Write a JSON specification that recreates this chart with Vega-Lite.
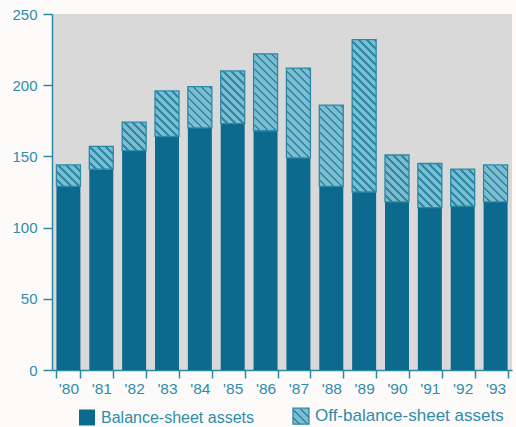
{
  "$schema": "https://vega.github.io/schema/vega-lite/v6.json",
  "width": 460,
  "height": 356,
  "autosize": {"type": "none"},
  "padding": {"left": 52, "top": 14, "right": 4, "bottom": 57},
  "background": "#fdfbf9",
  "config": {
    "view": {"fill": "#d9d9d9", "stroke": null},
    "font": "Liberation Sans"
  },
  "params": [
    {
      "name": "hatch",
      "value": [
        {"offset": 0, "color": "#7ebdd0"}, {"offset": 0.03091, "color": "#7ebdd0"}, {"offset": 0.03091, "color": "#2c89a6"}, {"offset": 0.04545, "color": "#2c89a6"},
        {"offset": 0.04545, "color": "#7ebdd0"}, {"offset": 0.07636, "color": "#7ebdd0"}, {"offset": 0.07636, "color": "#2c89a6"}, {"offset": 0.09091, "color": "#2c89a6"},
        {"offset": 0.09091, "color": "#7ebdd0"}, {"offset": 0.12182, "color": "#7ebdd0"}, {"offset": 0.12182, "color": "#2c89a6"}, {"offset": 0.13636, "color": "#2c89a6"},
        {"offset": 0.13636, "color": "#7ebdd0"}, {"offset": 0.16727, "color": "#7ebdd0"}, {"offset": 0.16727, "color": "#2c89a6"}, {"offset": 0.18182, "color": "#2c89a6"},
        {"offset": 0.18182, "color": "#7ebdd0"}, {"offset": 0.21273, "color": "#7ebdd0"}, {"offset": 0.21273, "color": "#2c89a6"}, {"offset": 0.22727, "color": "#2c89a6"},
        {"offset": 0.22727, "color": "#7ebdd0"}, {"offset": 0.25818, "color": "#7ebdd0"}, {"offset": 0.25818, "color": "#2c89a6"}, {"offset": 0.27273, "color": "#2c89a6"},
        {"offset": 0.27273, "color": "#7ebdd0"}, {"offset": 0.30364, "color": "#7ebdd0"}, {"offset": 0.30364, "color": "#2c89a6"}, {"offset": 0.31818, "color": "#2c89a6"},
        {"offset": 0.31818, "color": "#7ebdd0"}, {"offset": 0.34909, "color": "#7ebdd0"}, {"offset": 0.34909, "color": "#2c89a6"}, {"offset": 0.36364, "color": "#2c89a6"},
        {"offset": 0.36364, "color": "#7ebdd0"}, {"offset": 0.39455, "color": "#7ebdd0"}, {"offset": 0.39455, "color": "#2c89a6"}, {"offset": 0.40909, "color": "#2c89a6"},
        {"offset": 0.40909, "color": "#7ebdd0"}, {"offset": 0.44, "color": "#7ebdd0"}, {"offset": 0.44, "color": "#2c89a6"}, {"offset": 0.45455, "color": "#2c89a6"},
        {"offset": 0.45455, "color": "#7ebdd0"}, {"offset": 0.48545, "color": "#7ebdd0"}, {"offset": 0.48545, "color": "#2c89a6"}, {"offset": 0.5, "color": "#2c89a6"},
        {"offset": 0.5, "color": "#7ebdd0"}, {"offset": 0.53091, "color": "#7ebdd0"}, {"offset": 0.53091, "color": "#2c89a6"}, {"offset": 0.54545, "color": "#2c89a6"},
        {"offset": 0.54545, "color": "#7ebdd0"}, {"offset": 0.57636, "color": "#7ebdd0"}, {"offset": 0.57636, "color": "#2c89a6"}, {"offset": 0.59091, "color": "#2c89a6"},
        {"offset": 0.59091, "color": "#7ebdd0"}, {"offset": 0.62182, "color": "#7ebdd0"}, {"offset": 0.62182, "color": "#2c89a6"}, {"offset": 0.63636, "color": "#2c89a6"},
        {"offset": 0.63636, "color": "#7ebdd0"}, {"offset": 0.66727, "color": "#7ebdd0"}, {"offset": 0.66727, "color": "#2c89a6"}, {"offset": 0.68182, "color": "#2c89a6"},
        {"offset": 0.68182, "color": "#7ebdd0"}, {"offset": 0.71273, "color": "#7ebdd0"}, {"offset": 0.71273, "color": "#2c89a6"}, {"offset": 0.72727, "color": "#2c89a6"},
        {"offset": 0.72727, "color": "#7ebdd0"}, {"offset": 0.75818, "color": "#7ebdd0"}, {"offset": 0.75818, "color": "#2c89a6"}, {"offset": 0.77273, "color": "#2c89a6"},
        {"offset": 0.77273, "color": "#7ebdd0"}, {"offset": 0.80364, "color": "#7ebdd0"}, {"offset": 0.80364, "color": "#2c89a6"}, {"offset": 0.81818, "color": "#2c89a6"},
        {"offset": 0.81818, "color": "#7ebdd0"}, {"offset": 0.84909, "color": "#7ebdd0"}, {"offset": 0.84909, "color": "#2c89a6"}, {"offset": 0.86364, "color": "#2c89a6"},
        {"offset": 0.86364, "color": "#7ebdd0"}, {"offset": 0.89455, "color": "#7ebdd0"}, {"offset": 0.89455, "color": "#2c89a6"}, {"offset": 0.90909, "color": "#2c89a6"},
        {"offset": 0.90909, "color": "#7ebdd0"}, {"offset": 0.94, "color": "#7ebdd0"}, {"offset": 0.94, "color": "#2c89a6"}, {"offset": 0.95455, "color": "#2c89a6"},
        {"offset": 0.95455, "color": "#7ebdd0"}, {"offset": 0.98545, "color": "#7ebdd0"}, {"offset": 0.98545, "color": "#2c89a6"}, {"offset": 1, "color": "#2c89a6"}
      ]
    }
  ],
  "data": {
    "values": [
      {"year": "'80", "type": "Balance-sheet assets", "value": 129},
      {"year": "'80", "type": "Off-balance-sheet assets", "value": 15},
      {"year": "'81", "type": "Balance-sheet assets", "value": 141},
      {"year": "'81", "type": "Off-balance-sheet assets", "value": 16},
      {"year": "'82", "type": "Balance-sheet assets", "value": 154},
      {"year": "'82", "type": "Off-balance-sheet assets", "value": 20},
      {"year": "'83", "type": "Balance-sheet assets", "value": 164},
      {"year": "'83", "type": "Off-balance-sheet assets", "value": 32},
      {"year": "'84", "type": "Balance-sheet assets", "value": 170},
      {"year": "'84", "type": "Off-balance-sheet assets", "value": 29},
      {"year": "'85", "type": "Balance-sheet assets", "value": 173},
      {"year": "'85", "type": "Off-balance-sheet assets", "value": 37},
      {"year": "'86", "type": "Balance-sheet assets", "value": 168},
      {"year": "'86", "type": "Off-balance-sheet assets", "value": 54},
      {"year": "'87", "type": "Balance-sheet assets", "value": 149},
      {"year": "'87", "type": "Off-balance-sheet assets", "value": 63},
      {"year": "'88", "type": "Balance-sheet assets", "value": 129},
      {"year": "'88", "type": "Off-balance-sheet assets", "value": 57},
      {"year": "'89", "type": "Balance-sheet assets", "value": 125},
      {"year": "'89", "type": "Off-balance-sheet assets", "value": 107},
      {"year": "'90", "type": "Balance-sheet assets", "value": 118},
      {"year": "'90", "type": "Off-balance-sheet assets", "value": 33},
      {"year": "'91", "type": "Balance-sheet assets", "value": 114},
      {"year": "'91", "type": "Off-balance-sheet assets", "value": 31},
      {"year": "'92", "type": "Balance-sheet assets", "value": 115},
      {"year": "'92", "type": "Off-balance-sheet assets", "value": 26},
      {"year": "'93", "type": "Balance-sheet assets", "value": 118},
      {"year": "'93", "type": "Off-balance-sheet assets", "value": 26}
    ]
  },
  "transform": [
    {"stack": "value", "groupby": ["year"], "sort": [{"field": "type", "order": "ascending"}], "as": ["v0", "v1"]}
  ],
  "encoding": {
    "x": {
      "field": "year",
      "type": "nominal",
      "sort": null,
      "scale": {"paddingInner": 0.27, "paddingOuter": 0.135},
      "axis": {
        "title": null,
        "labelAngle": 0,
        "tickBand": "extent",
        "tickSize": 8,
        "tickWidth": 1.5,
        "tickColor": "#2c89a6",
        "domainColor": "#2c89a6",
        "domainWidth": 1.5,
        "labelFont": "Liberation Sans",
        "labelFontSize": 15.5,
        "labelColor": "#2f8cab",
        "labelPadding": 3
      }
    },
    "y": {
      "field": "v1",
      "type": "quantitative",
      "scale": {"domain": [0, 250], "nice": false},
      "axis": {
        "title": null,
        "values": [0, 50, 100, 150, 200, 250],
        "grid": false,
        "tickSize": 9,
        "tickWidth": 1.5,
        "tickColor": "#2c89a6",
        "domainColor": "#2c89a6",
        "domainWidth": 1.5,
        "labelFont": "Liberation Sans",
        "labelFontSize": 15,
        "labelColor": "#2f8cab",
        "labelPadding": 6
      }
    },
    "y2": {"field": "v0"}
  },
  "layer": [
    {
      "mark": {"type": "bar"},
      "encoding": {
        "fill": {
          "field": "type",
          "type": "nominal",
          "scale": {
            "domain": ["Balance-sheet assets", "Off-balance-sheet assets"],
            "range": ["#0b6a8e", "#7ebdd0"]
          },
          "legend": null
        },
        "opacity": {
          "field": "type",
          "type": "ordinal",
          "scale": {"range": [1, 1]},
          "legend": {
            "title": null,
            "orient": "none",
            "legendX": 27,
            "legendY": 394,
            "direction": "horizontal",
            "symbolType": "square",
            "symbolSize": 256,
            "symbolFillColor": {"expr": "datum.value === 'Off-balance-sheet assets' ? {gradient: 'linear', x1: 0, y1: 1, x2: 5.5, y2: -4.5, stops: hatch} : '#0b6a8e'"},
            "symbolStrokeColor": "#2c89a6",
            "symbolStrokeWidth": {"expr": "datum.value === 'Off-balance-sheet assets' ? 1.3 : 0"},
            "labelFont": "Liberation Sans",
            "labelFontSize": {"expr": "datum.value === 'Off-balance-sheet assets' ? 17 : 16"},
            "labelLimit": 0,
            "labelColor": "#2f8cab",
            "labelOffset": 6,
            "columnPadding": 36
          }
        }
      }
    },
    {
      "transform": [{"filter": "datum.type === 'Off-balance-sheet assets'"}],
      "mark": {
        "type": "bar",
        "stroke": "#2c89a6",
        "strokeWidth": 1.3,
        "fill": {"expr": "{gradient: 'linear', x1: 0, y1: 1, x2: 176 * bandwidth('x') / (pow(bandwidth('x'), 2) + pow(scale('y', datum.v0) - scale('y', datum.v1), 2)), y2: 1 - 176 * (scale('y', datum.v0) - scale('y', datum.v1)) / (pow(bandwidth('x'), 2) + pow(scale('y', datum.v0) - scale('y', datum.v1), 2)), stops: hatch}"}
      }
    }
  ]
}
